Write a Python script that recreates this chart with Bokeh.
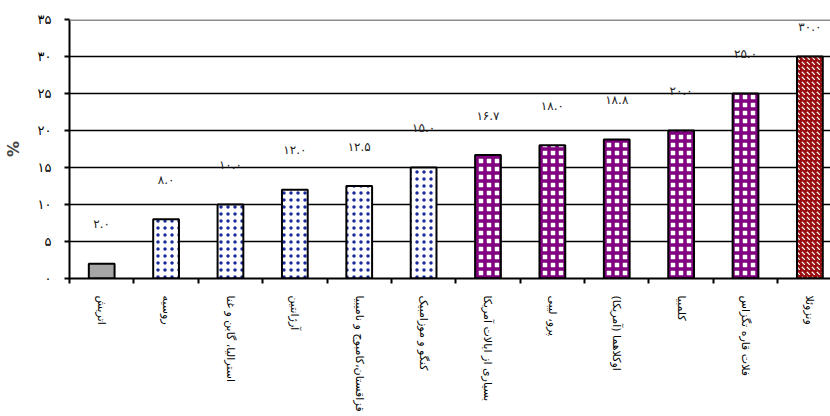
from bokeh.plotting import figure
from bokeh.models import ColumnDataSource, FixedTicker, Span, CDSView, IndexFilter
from bokeh.core.properties import value
from bokeh.embed import file_html
from bokeh.resources import INLINE

categories = ["اتریش", "روسیه", "استرالیا، گابن و غنا", "آرژانتین",
              "قزاقستان،کامبوج و نامیبیا", "کنگو و موزامبیک", "بسیاری از ایالات آمریکا",
              "پرو، لیبی", "اوکلاهما (آمریکا)", "کلمبیا", "فلات قاره تگزاس", "ونزوئلا"]
values = [2.0, 8.0, 10.0, 12.0, 12.5, 15.0, 16.7, 18.0, 18.8, 20.0, 25.0, 30.0]
y_ticks = [0, 5, 10, 15, 20, 25, 30, 35]
y_tick_labels = ["۰", "۵", "۱۰", "۱۵", "۲۰", "۲۵", "۳۰", "۳۵"]

FA = str.maketrans("0123456789", "۰۱۲۳۴۵۶۷۸۹")
def fa(s):
    return s.translate(FA)

value_labels = [fa(f"{v:.1f}") for v in values]
xs = [i + 0.5 for i in range(len(categories))]

src = ColumnDataSource(dict(x=xs, top=values, lab=value_labels,
                            ly=[min(v + 5.3, 34.0) for v in values]))

p = figure(width=830, height=416, output_backend="svg", toolbar_location=None,
           x_range=(0, 11.82), y_range=(0, 35), min_border_left=68, min_border_right=0,
           min_border_top=19, min_border_bottom=138, outline_line_color=None,
           background_fill_color="white")
p.xgrid.visible = False
p.ygrid.ticker = FixedTicker(ticks=[5, 10, 15, 20, 25, 30])
p.ygrid.grid_line_color = "black"
p.ygrid.grid_line_width = 1.5

p.add_layout(Span(location=35, dimension="width", line_color="#8c8c8c", line_width=3))

bw = 0.40
common = dict(x="x", top="top", width=bw, source=src, line_color="black", line_width=2)
p.vbar(view=CDSView(filter=IndexFilter([0])), fill_color="#a6a6a6", **common)
p.vbar(view=CDSView(filter=IndexFilter([1, 2, 3, 4, 5])), fill_color="white",
       hatch_pattern="dot", hatch_color="#1a2a9a", hatch_scale=7, hatch_weight=2, **common)
p.vbar(view=CDSView(filter=IndexFilter([6, 7, 8, 9, 10])), fill_color="white",
       hatch_pattern="cross", hatch_color="#800080", hatch_scale=8, hatch_weight=3.5, **common)
p.vbar(view=CDSView(filter=IndexFilter([11])), fill_color="#9a1010",
       hatch_pattern="left_diagonal_dash", hatch_color="white", hatch_scale=5,
       hatch_weight=1.2, **common)

p.text(x="x", y="ly", text="lab", source=src, text_align="center", text_baseline="middle",
       text_font=value("DejaVu Sans"), text_font_size="12px", text_color="#222222")

p.xaxis.ticker = FixedTicker(ticks=xs, minor_ticks=list(range(13)))
p.xaxis.major_label_overrides = {x: c for x, c in zip(xs, categories)}
p.xaxis.major_label_orientation = "vertical"
p.xaxis.major_tick_out = 0
p.xaxis.major_tick_in = 0
p.xaxis.minor_tick_out = 5
p.xaxis.minor_tick_in = 0
p.xaxis.minor_tick_line_color = "black"
p.xaxis.minor_tick_line_width = 2
p.xaxis.axis_line_width = 2
p.xaxis.axis_line_color = "black"
p.xaxis.major_label_standoff = 12
p.xaxis.major_label_text_font = "DejaVu Sans"
p.xaxis.major_label_text_font_size = "11px"
p.xaxis.major_label_text_color = "black"

p.yaxis.ticker = FixedTicker(ticks=y_ticks)
p.yaxis.major_label_overrides = {t: l for t, l in zip(y_ticks, y_tick_labels)}
p.yaxis.minor_tick_line_color = None
p.yaxis.major_tick_out = 5
p.yaxis.major_tick_in = 0
p.yaxis.major_tick_line_width = 2
p.yaxis.axis_line_width = 2
p.yaxis.axis_line_color = "black"
p.yaxis.major_label_text_font = "DejaVu Sans"
p.yaxis.major_label_text_font_size = "13px"
p.yaxis.major_label_text_color = "black"
p.yaxis.major_label_standoff = 13
p.yaxis.axis_label = "%"
p.yaxis.axis_label_text_font = "DejaVu Sans"
p.yaxis.axis_label_text_font_style = "bold"
p.yaxis.axis_label_text_font_size = "16px"
p.yaxis.axis_label_standoff = 12

open("out.html", "w").write(file_html(p, INLINE))
